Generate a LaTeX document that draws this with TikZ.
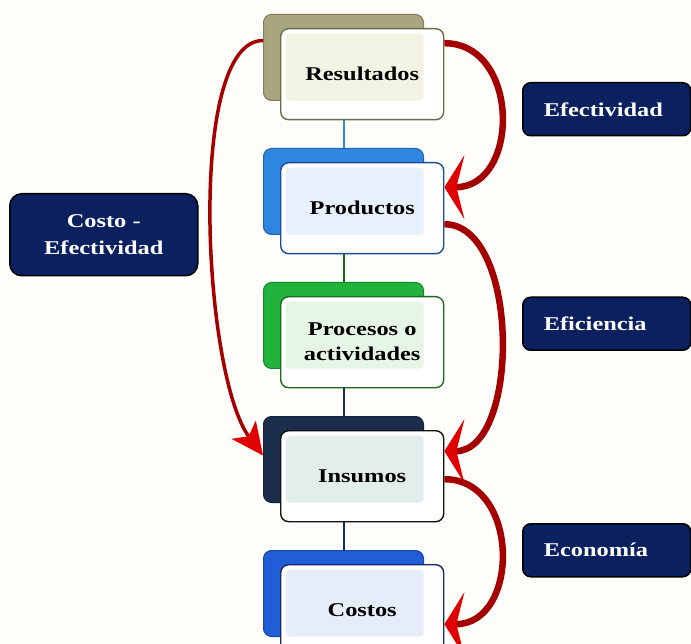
\documentclass[tikz,border=0pt]{standalone}
\usepackage{fontspec}
\setmainfont{Liberation Serif}[FakeStretch=1.25]
\usetikzlibrary{arrows.meta, positioning}

\definecolor{paper}{HTML}{FDFDFA}
\definecolor{olivebk}{HTML}{A9A67F}
\definecolor{oliveln}{HTML}{6E6C48}
\definecolor{olivetn}{HTML}{F3F3E4}
\definecolor{bluebk}{HTML}{2F86E0}
\definecolor{blueln}{HTML}{1A4C9C}
\definecolor{bluetn}{HTML}{E7F1FB}
\definecolor{greenbk}{HTML}{22B33C}
\definecolor{greenln}{HTML}{1B6A1E}
\definecolor{greentn}{HTML}{E6F6E6}
\definecolor{navybk}{HTML}{1B2D4D}
\definecolor{navyln}{HTML}{111111}
\definecolor{navytn}{HTML}{E3EDEC}
\definecolor{royalbk}{HTML}{1F5ED6}
\definecolor{royalln}{HTML}{17296B}
\definecolor{royaltn}{HTML}{E6ECF8}
\definecolor{labelbg}{HTML}{0B215F}
\definecolor{arrowred}{HTML}{A40000}
\definecolor{tipred}{HTML}{E00000}

\begin{document}
\begin{tikzpicture}[
  x=1pt, y=-1pt,
  backbox/.style={draw=#1!75!black, fill=#1, rounded corners=8pt, line width=1pt,
    minimum width=160pt, minimum height=86pt, inner sep=0pt},
  frontbox/.style 2 args={draw=#1, fill=white, rounded corners=8pt, line width=1.4pt,
    minimum width=163pt, minimum height=91pt, inner sep=0pt, align=center,
    font=\bfseries\fontsize{19.5}{25}\selectfont,
    path picture={\fill[#2, rounded corners=4pt]
      ([xshift=5pt,yshift=-5pt]path picture bounding box.north west) rectangle
      ([xshift=-20pt,yshift=19pt]path picture bounding box.south east);}},
  tag/.style={draw=black, line width=1.5pt, fill=labelbg, rounded corners=8pt,
    text=white, font=\bfseries\fontsize{19.5}{27}\selectfont, minimum height=53pt},
  link/.style={draw=#1, line width=2pt},
  bigarrow/.style={draw=arrowred, line width=6.5pt,
    -{Stealth[length=20pt, width=64pt, inset=8pt, fill=tipred, color=tipred]}},
  smallarrow/.style={draw=arrowred, line width=3.5pt,
    -{Stealth[length=32pt, width=30pt, inset=8pt, fill=tipred, color=tipred]}}
]
\clip (0,0) rectangle (691,644);
\fill[paper] (0,0) rectangle (691,644);

% Resultados
\node[backbox=olivebk, anchor=north west] (res-bk) at (263,14) {};
\node[frontbox={oliveln}{olivetn}, anchor=north west] (res)
  at ([xshift=17pt,yshift=-14pt]res-bk.north west) {Resultados};

% Productos
\node[backbox=bluebk, below=47pt of res-bk] (prod-bk) {};
\node[frontbox={blueln}{bluetn}, anchor=north west] (prod)
  at ([xshift=17pt,yshift=-14pt]prod-bk.north west) {Productos};

% Procesos o actividades
\node[backbox=greenbk, below=47pt of prod-bk] (proc-bk) {};
\node[frontbox={greenln}{greentn}, anchor=north west] (proc)
  at ([xshift=17pt,yshift=-14pt]proc-bk.north west) {Procesos o\\actividades};

% Insumos
\node[backbox=navybk, below=47pt of proc-bk] (ins-bk) {};
\node[frontbox={navyln}{navytn}, anchor=north west] (ins)
  at ([xshift=17pt,yshift=-14pt]ins-bk.north west) {Insumos};

% Costos
\node[backbox=royalbk, below=47pt of ins-bk] (cost-bk) {};
\node[frontbox={royalln}{royaltn}, anchor=north west] (cost)
  at ([xshift=17pt,yshift=-14pt]cost-bk.north west) {Costos};

% Links between the levels
\draw[link=bluebk] (res-bk.south |- res.south) -- (prod-bk.north);
\draw[link=greenln] (prod-bk.south |- prod.south) -- (proc-bk.north);
\draw[link=navybk] (proc-bk.south |- proc.south) -- (ins-bk.north);
\draw[link=royalln] (ins-bk.south |- ins.south) -- (cost-bk.north);

% Labels
\node[tag, anchor=north west, text width=126pt, inner xsep=21pt, align=left] (efect) at (522,82) {Efectividad};
\node[tag, below=160pt of efect.south west, anchor=north west, text width=126pt, inner xsep=21pt, align=left] (efic) {Eficiencia};
\node[tag, below=172pt of efic.south west, anchor=north west, text width=126pt, inner xsep=21pt, align=left] (econ) {Economía};
\node[tag, anchor=north west, minimum width=188pt, minimum height=82pt, rounded corners=12pt, align=center] (costoef) at (9,193) {Costo -\\Efectividad};

% Arrows
\draw[bigarrow] ([yshift=31pt]res.east) .. controls +(76pt,0) and +(76pt,0) .. ([yshift=21pt]prod.east);
\draw[bigarrow] ([yshift=-16pt]prod.east) .. controls +(76pt,0) and +(76pt,0) .. ([yshift=25pt]ins.east);
\draw[bigarrow] ([yshift=-3pt]ins.east) .. controls +(76pt,0) and +(76pt,0) .. ([yshift=-14pt]cost.east);
\draw[smallarrow] ([yshift=17pt]res-bk.west) .. controls +(-77pt,0) and +(-60pt,80pt) .. ([yshift=4pt]ins-bk.west);

\end{tikzpicture}
\end{document}
